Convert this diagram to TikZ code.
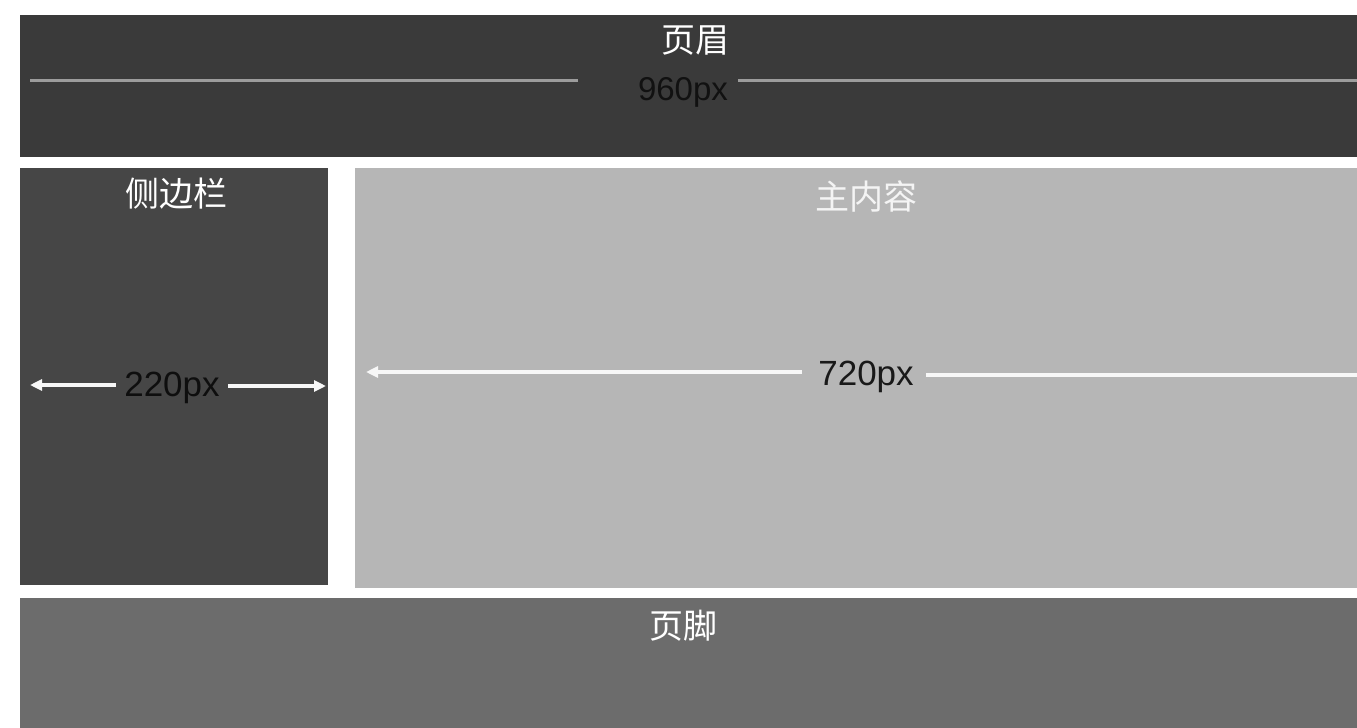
\documentclass[tikz,border=0pt]{standalone}
\usepackage{fontspec}
\setmainfont{Liberation Sans}
\newfontfamily\cjk{Noto Sans CJK SC}
\usetikzlibrary{arrows.meta}
\definecolor{hdr}{HTML}{3A3A3A}
\definecolor{side}{HTML}{464646}
\definecolor{mainc}{HTML}{B6B6B6}
\definecolor{foot}{HTML}{6C6C6C}
\begin{document}
\begin{tikzpicture}[x=1pt,y=-1pt,
  cjklabel/.style={font=\cjk\fontsize{34}{36}\selectfont,text=white,inner sep=0pt},
  dimlabel/.style={font=\fontsize{35}{37}\selectfont,inner sep=0pt},
  dimline/.style={line width=4.5pt,color=white!94!gray},
  dimarrow/.style={dimline,-{Triangle[length=12pt,width=11pt]}}
]
\useasboundingbox (0,0) rectangle (1357,728);
\fill[white] (0,0) rectangle (1357,728);
% regions
\fill[hdr]   (20,15)  rectangle (1357,157);
\fill[side]  (20,168) rectangle (328,585);
\fill[mainc] (355,168) rectangle (1357,588);
\fill[foot]  (20,598) rectangle (1357,728);
% labels
\node[cjklabel] (hdrt)  at (695,41)  {页眉};
\node[cjklabel] (sidet) at (176,194) {侧边栏};
\node[cjklabel,text=white!85!mainc] (maint) at (866,196) {主内容};
\node[cjklabel] (foott) at (683,626) {页脚};
% header dimension
\node[dimlabel,text=black!70!hdr,font=\fontsize{33}{35}\selectfont] (w960) at (683,92) {960px};
\coordinate (hl) at (30,80);
\coordinate (hr) at (1357,80);
\draw[line width=3pt,color=white!50!hdr] (hl) -- ([xshift=-60pt]w960.west |- hl);
\draw[line width=3pt,color=white!50!hdr] ([xshift=10pt]w960.east |- hr) -- (hr);
% sidebar dimension
\node[dimlabel,text=black!80!side] (w220) at (172,388) {220px};
\coordinate (sl) at (30,385);
\coordinate (sr) at (326,386);
\draw[dimarrow] ([xshift=-8pt]w220.west |- sl) -- (sl);
\draw[dimarrow] ([xshift=8pt]w220.east |- sr) -- (sr);
% main dimension
\node[dimlabel,text=black!90] (w720) at (866,377) {720px};
\coordinate (ml) at (366,372);
\coordinate (mr) at (1357,375);
\draw[dimarrow] ([xshift=-16pt]w720.west |- ml) -- (ml);
\draw[dimline] ([xshift=12pt]w720.east |- mr) -- (mr);
\end{tikzpicture}
\end{document}
